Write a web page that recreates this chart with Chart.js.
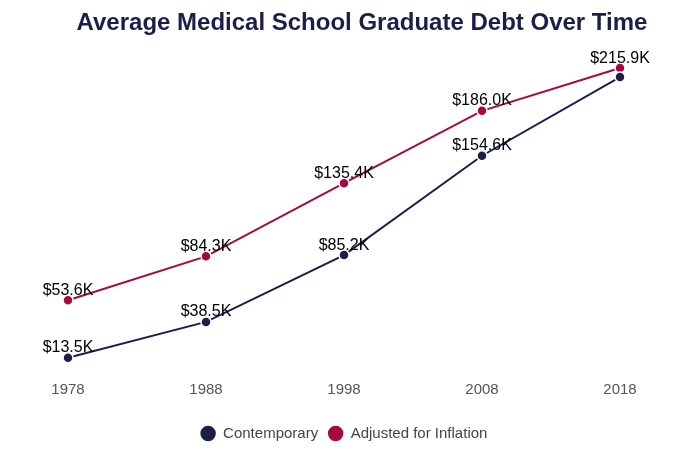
<!DOCTYPE html>
<html>
<head>
<meta charset="utf-8">
<script src="https://cdn.jsdelivr.net/npm/chart.js@4.4.1/dist/chart.umd.min.js"></script>
<style>
    body { margin: 0; background: #fff; }
    #wrap { position: relative; width: 700px; height: 455px; }
    #title {
        position: absolute; top: 8px; left: 24px; width: 676px;
        text-align: center; font: bold 24px "Liberation Sans", Arial, sans-serif;
        color: #1a1f4a; line-height: 28px;
    }
</style>
</head>
<body>
<div id="wrap">
    <div id="title">Average Medical School Graduate Debt Over Time</div>
    <canvas id="line-chart" width="700" height="455"></canvas>
</div>
<script>
// Data (thousands of dollars)
const years = ['1978', '1988', '1998', '2008', '2018'];
const contemporary = [13.5, 38.5, 85.2, 154.6, 209.6];
const adjusted = [53.6, 84.3, 135.4, 186.0, 215.9];

const navy = '#1a1f4a';
const crimson = '#a6093d';

// Value labels above each point, hiding ones that would collide
const valueLabels = {
    id: 'valueLabels',
    afterDatasetsDraw(chart) {
        const ctx = chart.ctx;
        const taken = [];
        ctx.save();
        ctx.font = '16px "Liberation Sans", Arial, sans-serif';
        ctx.fillStyle = '#000';
        ctx.textAlign = 'center';
        ctx.textBaseline = 'alphabetic';
        for (let d = chart.data.datasets.length - 1; d >= 0; d--) {
            const meta = chart.getDatasetMeta(d);
            meta.data.forEach((pt, i) => {
                const text = '$' + chart.data.datasets[d].data[i].toFixed(1) + 'K';
                const w = ctx.measureText(text).width;
                const box = { l: pt.x - w / 2, r: pt.x + w / 2, t: pt.y - 18, b: pt.y - 5 };
                const hit = taken.some(o => box.l < o.r && box.r > o.l && box.t < o.b && box.b > o.t);
                if (hit) return;
                taken.push(box);
                ctx.fillText(text, pt.x, pt.y - 5.5);
            });
        }
        ctx.restore();
    }
};

const ctx = document.getElementById('line-chart').getContext('2d');
const lineChart = new Chart(ctx, {
    type: 'line',
    data: {
        labels: years,
        datasets: [{
            label: 'Contemporary',
            data: contemporary,
            borderColor: navy,
            backgroundColor: navy,
            pointBackgroundColor: navy,
            pointBorderColor: '#fff',
            pointBorderWidth: 1.5,
            pointRadius: 5,
            borderWidth: 2
        }, {
            label: 'Adjusted for Inflation',
            data: adjusted,
            borderColor: crimson,
            backgroundColor: crimson,
            pointBackgroundColor: crimson,
            pointBorderColor: '#fff',
            pointBorderWidth: 1.5,
            pointRadius: 5,
            borderWidth: 2
        }]
    },
    options: {
        responsive: false,
        animation: false,
        layout: { padding: { top: 50, left: 68, right: 80, bottom: 4 } },
        scales: {
            x: {
                grid: { display: false, drawTicks: false },
                border: { display: false },
                ticks: {
                    color: '#555',
                    padding: 4,
                    font: { size: 15, family: '"Liberation Sans", Arial, sans-serif' }
                },
                // leave room between the year labels and the legend
                afterFit: (axis) => { axis.height += 13; }
            },
            y: { display: false, min: 0, max: 228.5 }
        },
        plugins: {
            legend: {
                position: 'bottom',
                labels: {
                    usePointStyle: true,
                    pointStyle: 'circle',
                    boxHeight: 12,
                    color: '#444',
                    padding: 10,
                    font: { size: 15, family: '"Liberation Sans", Arial, sans-serif' }
                }
            },
            tooltip: { enabled: false }
        }
    },
    plugins: [valueLabels]
});
</script>
</body>
</html>
